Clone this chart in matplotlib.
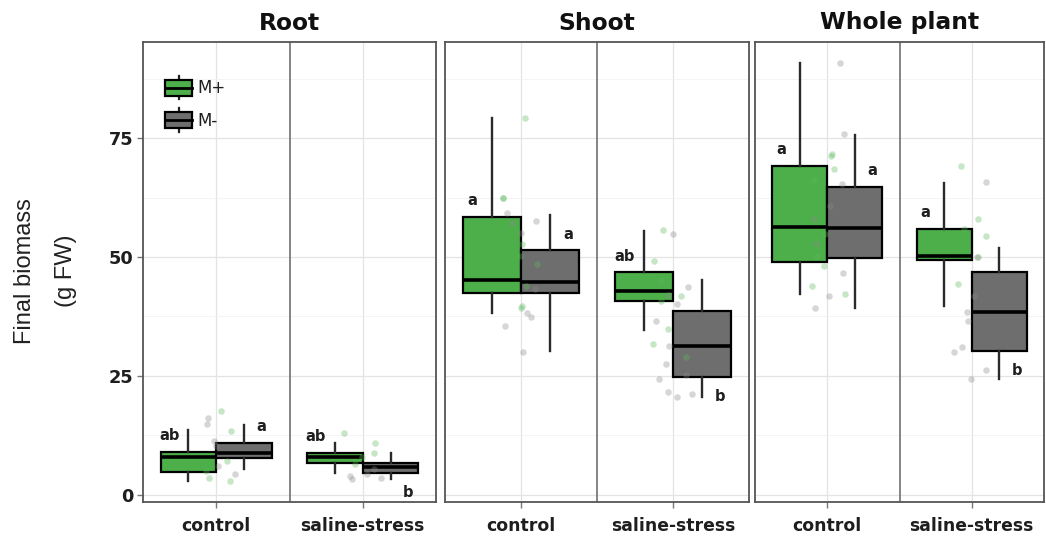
import numpy as np
import matplotlib
matplotlib.use("Agg")
import matplotlib.pyplot as plt
from matplotlib.patches import Rectangle, Patch
from matplotlib.lines import Line2D
from matplotlib.legend_handler import HandlerBase
from matplotlib.ticker import MultipleLocator

plt.rcParams['font.family'] = ['DejaVu Sans']

# ---------------- data ----------------
facets = ["Root", "Shoot", "Whole plant"]
conditions = ["control", "saline-stress"]
groups = ["M+", "M-"]

# box stats per condition: [whislo, q1, median, q3, whishi]
root_mplus = [[2.9, 4.8, 7.9, 9.1, 13.6], [4.7, 6.6, 7.9, 8.8, 11.0]]
root_mminus = [[5.5, 7.7, 8.8, 11.0, 14.7], [3.4, 4.6, 5.9, 6.8, 8.8]]
shoot_mplus = [[38.3, 42.5, 45.1, 58.4, 79.3], [34.7, 40.8, 42.8, 46.8, 55.4]]
shoot_mminus = [[30.2, 42.4, 44.7, 51.4, 58.9], [20.5, 24.8, 31.3, 38.6, 45.1]]
whole_mplus = [[42.2, 48.9, 56.4, 69.1, 90.7], [39.8, 49.3, 50.2, 55.9, 65.6]]
whole_mminus = [[39.2, 49.8, 56.1, 64.7, 75.7], [24.4, 30.3, 38.5, 46.8, 51.9]]

# raw observations (jittered points) per condition
root_mplus_pts = [[17.7, 13.5, 7.2, 5.0, 3.6, 3.0], [13.1, 11.0, 8.9, 7.9, 6.5]]
root_mminus_pts = [[16.2, 15.0, 11.4, 10.3, 6.1, 4.4], [5.5, 4.4, 3.6, 3.4, 4.0]]
shoot_mplus_pts = [[79.3, 62.5, 62.5, 52.8, 50.3, 48.6, 44.0, 39.8, 39.3],
                   [55.6, 49.1, 45.1, 41.9, 40.8, 34.9, 31.7, 28.9]]
shoot_mminus_pts = [[59.2, 57.1, 57.5, 55.1, 43.3, 38.2, 37.3, 35.6, 30.0],
                    [54.9, 43.6, 42.1, 40.1, 36.6, 31.2, 27.5, 24.4, 25.1, 21.7, 21.3, 20.5]]
whole_mplus_pts = [[71.2, 71.7, 68.4, 66.1, 54.9, 50.3, 48.2, 44.0, 42.3],
                   [69.1, 57.9, 55.9, 54.5, 50.0, 44.4]]
whole_mminus_pts = [[90.7, 75.8, 65.4, 60.8, 58.0, 52.8, 46.6, 41.9, 39.2],
                    [65.8, 50.0, 41.9, 38.5, 36.5, 31.0, 30.0, 26.3, 24.4]]

# significance letters [condition][group]
root_letters = [["ab", "a"], ["ab", "b"]]
shoot_letters = [["a", "a"], ["ab", "b"]]
whole_letters = [["a", "a"], ["a", "b"]]

y_ticks = [0, 25, 50, 75]
y_label = "Final biomass\n(g FW)"

box_data = [(root_mplus, root_mminus), (shoot_mplus, shoot_mminus), (whole_mplus, whole_mminus)]
pts_data = [(root_mplus_pts, root_mminus_pts), (shoot_mplus_pts, shoot_mminus_pts),
            (whole_mplus_pts, whole_mminus_pts)]
letter_data = [root_letters, shoot_letters, whole_letters]

# ---------------- style ----------------
FILL = {"M+": "#4DAF4A", "M-": "#6E6E6E"}
PT = {"M+": "#5CB85C", "M-": "#8A8A8A"}
BOXW = 0.38
OFFS = {"M+": -0.19, "M-": 0.19}
TXT = "#1E1E1E"

fig = plt.figure(figsize=(10.46, 5.4), dpi=100)
W, H = 1046.0, 540.0
panel_px = [(143, 436), (445, 749), (755, 1044)]
top_px, bot_px = 42, 502

rng = np.random.default_rng(7)


class BoxHandler(HandlerBase):
    def create_artists(self, legend, orig_handle, xdescent, ydescent,
                       width, height, fontsize, trans):
        fc = orig_handle.get_facecolor()
        x0, y0 = -xdescent, -ydescent
        bw = width
        bh = height * 0.9
        by = y0 + (height - bh) / 2
        cx = x0 + bw / 2
        wl = Line2D([cx, cx], [by - height * 0.22, by + bh + height * 0.22],
                    color="#222222", lw=1.6, transform=trans)
        r = Rectangle((x0, by), bw, bh, facecolor=fc, edgecolor="black",
                      lw=1.6, transform=trans)
        m = Line2D([x0, x0 + bw], [by + bh / 2, by + bh / 2], color="black",
                   lw=2.0, transform=trans)
        return [wl, r, m]


axes = []
for fi, facet in enumerate(facets):
    l, r = panel_px[fi]
    ax = fig.add_axes([l / W, 1 - bot_px / H, (r - l) / W, (bot_px - top_px) / H])
    axes.append(ax)
    ax.set_xlim(-0.5, 1.5)
    ax.set_ylim(-1.5, 95.2)
    ax.set_axisbelow(True)

    ax.yaxis.set_major_locator(MultipleLocator(25))
    ax.yaxis.set_minor_locator(MultipleLocator(12.5))
    ax.grid(which="major", axis="y", color="#E3E3E3", lw=0.9)
    ax.grid(which="minor", axis="y", color="#F2F2F2", lw=0.6)
    ax.set_xticks(range(len(conditions)))
    ax.grid(which="major", axis="x", color="#E3E3E3", lw=0.9)
    ax.axvline(0.5, color="#707070", lw=1.2, zorder=1.5)

    for sp in ax.spines.values():
        sp.set_color("#555555")
        sp.set_linewidth(1.3)

    for gi, g in enumerate(groups):
        stats = []
        for ci, c in enumerate(conditions):
            wlo, q1, med, q3, whi = box_data[fi][gi][ci]
            stats.append(dict(whislo=wlo, q1=q1, med=med, q3=q3, whishi=whi,
                              fliers=[], label=c))
        positions = [ci + OFFS[g] for ci in range(len(conditions))]
        ax.bxp(stats, positions=positions, widths=BOXW, patch_artist=True,
               showcaps=False, showfliers=False, manage_ticks=False,
               boxprops=dict(facecolor=FILL[g], edgecolor="black", lw=1.6),
               medianprops=dict(color="black", lw=2.6),
               whiskerprops=dict(color="#2A2A2A", lw=1.7), zorder=3)

    for gi, g in enumerate(groups):
        for ci, c in enumerate(conditions):
            vals = np.array(pts_data[fi][gi][ci])
            xs = ci + rng.uniform(-0.13, 0.13, size=len(vals))
            ax.scatter(xs, vals, s=22, color=PT[g], alpha=0.35, lw=0, zorder=4)

    # letters
    for ci, c in enumerate(conditions):
        for gi, g in enumerate(groups):
            lab = letter_data[fi][ci][gi]
            wlo, q1, med, q3, whi = box_data[fi][gi][ci]
            if "a" in lab:
                y = q3 + 3.4
            else:
                y = q1 - 4.2
            x = ci + (-0.32 if g == "M+" else 0.31)
            ax.text(x, y, lab, ha="center", va="center", fontsize=10.5,
                    fontweight="bold", color=TXT, zorder=5)

    ax.set_xticklabels(conditions, fontsize=12.4, fontweight="bold", color=TXT)
    ax.tick_params(axis="x", length=4, width=1, color="#777777", pad=7)
    ax.tick_params(axis="y", which="minor", length=0)
    if fi == 0:
        ax.set_yticks(y_ticks)
        ax.set_yticklabels([str(t) for t in y_ticks], fontsize=12.8,
                           fontweight="bold", color=TXT)
        ax.tick_params(axis="y", length=4, width=1, color="#777777", pad=3)
    else:
        ax.tick_params(axis="y", which="both", length=0, labelleft=False)

    ax.set_title(facet, fontsize=16.8, fontweight="bold", color="#111111", pad=9)

handles = [Patch(facecolor=FILL[g], label=g) for g in groups]
axes[0].legend(handles=handles, handler_map={Patch: BoxHandler()},
               loc="upper left", bbox_to_anchor=(0.048, 0.938), frameon=False,
               prop=dict(family="DejaVu Sans", size=12),
               handlelength=1.6, handleheight=1.25,
               labelspacing=0.85, handletextpad=0.3, borderpad=0,
               labelcolor=TXT)

fig.text(45.5 / W, 1 - 271 / H, y_label, rotation=90, ha="center", va="center",
         fontsize=17, linespacing=2.15, color="#222222", family="Liberation Sans")

fig.savefig("out.png", dpi=100)
